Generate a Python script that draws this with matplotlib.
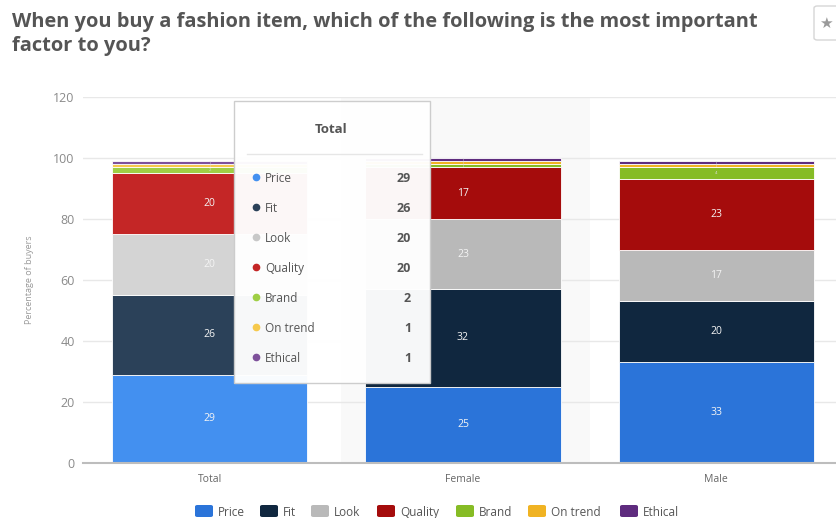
import matplotlib
matplotlib.use("Agg")
import matplotlib.pyplot as plt
from matplotlib.patches import FancyBboxPatch, Rectangle
import numpy as np

plt.rcParams['font.family'] = ['Open Sans', 'DejaVu Sans']

categories = ["Total", "Female", "Male"]
factors = ["Price", "Fit", "Look", "Quality", "Brand", "On trend", "Ethical"]
price = [29, 25, 33]
fit = [26, 32, 20]
look = [20, 23, 17]
quality = [20, 17, 23]
brand = [2, 1, 4]
on_trend = [1, 1, 1]
ethical = [1, 1, 1]
series = [price, fit, look, quality, brand, on_trend, ethical]

colors = ["#2b74d9", "#10273f", "#b9b9b9", "#a50c0c", "#86bc25", "#f0b323", "#5e2b7e"]
# lighter shades for the highlighted (hovered) column
hover_colors = ["#4390f0", "#2b4159", "#d4d4d4", "#c42626", "#9fcf45", "#f6c94c", "#7e519b"]
highlight = 0

W, H = 837, 518
fig = plt.figure(figsize=(W / 100, H / 100), dpi=100)
fig.patch.set_facecolor("white")

left, right, bottom, top = 83, 843, 463, 97
ax = fig.add_axes([left / W, 1 - bottom / H, (right - left) / W, (bottom - top) / H])
ax.set_xlim(-0.5, 2.5)
ax.set_ylim(0, 120)
ax.set_facecolor("none")

# faint band behind the middle category
ax.axvspan(0.52, 1.5, color="#f9f9f9", zorder=0, lw=0)

ax.set_yticks(np.arange(0, 121, 20))
ax.yaxis.grid(True, color="#e8e8e8", lw=1, zorder=0.5)
ax.set_axisbelow(True)
for s in ["top", "right", "left"]:
    ax.spines[s].set_visible(False)
ax.spines["bottom"].set_color("#bdbdbd")
ax.spines["bottom"].set_linewidth(1.5)
ax.tick_params(axis="y", length=0, labelsize=9, labelcolor="#8a8a8a", pad=6)
ax.tick_params(axis="x", length=0, labelsize=7.5, labelcolor="#666666", pad=8)
ax.set_xticks(range(len(categories)))
ax.set_xticklabels(categories)
ax.set_ylabel("Percentage of buyers", fontsize=6.5, color="#9a9a9a", labelpad=14)

x = np.arange(len(categories))
bw = 0.77
base = np.zeros(len(categories))
for i, vals in enumerate(series):
    vals = np.array(vals, dtype=float)
    cols = [hover_colors[i] if j == highlight else colors[i] for j in range(len(categories))]
    ax.bar(x, vals, bw, bottom=base, color=cols, edgecolor="white", linewidth=0.6, zorder=2)
    for j in range(len(categories)):
        v = vals[j]
        yc = base[j] + v / 2
        if v >= 5:
            ax.text(x[j], yc, f"{int(v)}", ha="center", va="center", fontsize=7.5,
                    color="#f4f4f4", zorder=3)
        else:
            ax.text(x[j], yc, f"{int(v)}", ha="center", va="center", fontsize=3.2,
                    color="#dddddd", zorder=3)
    base += vals

# Title
fig.text(12 / W, 1 - 22 / H, "When you buy a fashion item, which of the following is the most important",
         fontsize=14.4, fontweight="bold", color="#555555", ha="left", va="center")
fig.text(12 / W, 1 - 46 / H, "factor to you?",
         fontsize=14.4, fontweight="bold", color="#555555", ha="left", va="center")

# star button
fig.patches.append(FancyBboxPatch((814 / W, 1 - 40 / H), 30 / W, 34 / H,
                                  boxstyle="round,pad=0,rounding_size=0.004",
                                  transform=fig.transFigure, facecolor="white",
                                  edgecolor="#d6d6d6", lw=1))
fig.text(826 / W, 1 - 23 / H, "★", fontsize=11, color="#9a9a9a", ha="center", va="center",
         family=["DejaVu Sans"])

# Tooltip
tx0, tx1, ty0, ty1 = 234, 430, 101, 383
fig.patches.append(Rectangle((tx0 / W, 1 - ty1 / H), (tx1 - tx0) / W, (ty1 - ty0) / H,
                             transform=fig.transFigure, facecolor="white", alpha=0.97,
                             edgecolor="#cccccc", lw=1, zorder=5))
fig.text(331 / W, 1 - 130 / H, categories[highlight], fontsize=9.5, fontweight="bold",
         color="#555555", ha="center", va="center", zorder=6)
fig.lines.append(plt.Line2D([247 / W, 422 / W], [1 - 154 / H, 1 - 154 / H],
                            transform=fig.transFigure, color="#e6e6e6", lw=1, zorder=6))
for i, name in enumerate(factors):
    yy = 1 - (177 + 30 * i) / H
    fig.lines.append(plt.Line2D([256 / W], [yy], transform=fig.transFigure, marker="o",
                                markersize=4.5, color=hover_colors[i] if i != 2 else "#c8c8c8",
                                lw=0, zorder=6))
    fig.text(265 / W, yy, name, fontsize=8.5, color="#555555", ha="left",
             va="center_baseline", zorder=6)
    fig.text(411 / W, yy, str(series[i][highlight]), fontsize=9, fontweight="bold",
             color="#555555", ha="right", va="center_baseline", zorder=6)

# Legend
leg_y = 1 - 511 / H
lx = [195, 260, 311, 377, 456, 528, 620]
for i, name in enumerate(factors):
    fig.patches.append(FancyBboxPatch((lx[i] / W, leg_y - 6 / H), 18 / W, 12 / H,
                                      boxstyle="round,pad=0,rounding_size=0.003",
                                      transform=fig.transFigure, facecolor=colors[i],
                                      edgecolor="none"))
    fig.text((lx[i] + 23) / W, leg_y, name, fontsize=8.5, color="#555555",
             ha="left", va="center_baseline")

fig.savefig("out.png", dpi=100)
